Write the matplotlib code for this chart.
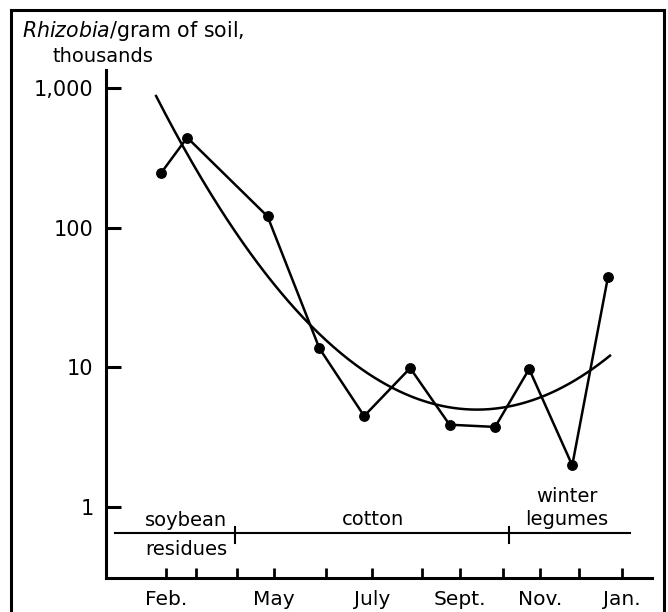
import numpy as np
import matplotlib
matplotlib.use("Agg")
import matplotlib.pyplot as plt
from matplotlib.lines import Line2D
import matplotlib.transforms as mtransforms

plt.rcParams['font.family'] = ['DejaVu Sans']

# months counted from Feb. (0) to Jan. (11), positions
month_ticks = [0, 0.72, 1.71, 2.61, 3.86, 4.97, 6.18, 7.09, 8.13, 9.02, 9.96, 11.0]
month_labels = ['Feb.', '', '', 'May', '', 'July', '', 'Sept.', '', 'Nov.', '', 'Jan.']

# sampling dates (months) and rhizobia counts (thousands per gram of soil)
sample_month = [-0.12, 0.51, 2.45, 3.70, 4.78, 5.89, 6.84, 7.94, 8.76, 9.80, 10.66]
rhizobia = [245, 439, 120, 13.7, 4.5, 9.9, 3.9, 3.76, 9.75, 2.0, 44]

# fitted trend (parabola in log10)
trend_start, trend_end = -0.24, 10.71
trend_min_month = 7.5
trend_min_value = 5.0
trend_curv = 0.0374   # log10 units per month^2

# crop periods along the bottom
crop_edges = [-1.23, 1.665, 8.275, 11.19]


def main():
    fig = plt.figure(figsize=(6.68, 6.12), dpi=100)
    ax = fig.add_axes([0.1587, 0.0556, 0.8174, 0.830])

    # observed counts
    ax.plot(sample_month, rhizobia, color='black', lw=1.8,
            marker='o', ms=6.8, solid_joinstyle='miter')

    # trend curve
    xs = np.linspace(trend_start, trend_end, 300)
    ys = 10 ** (np.log10(trend_min_value) + trend_curv * (xs - trend_min_month) ** 2)
    ax.plot(xs, ys, color='black', lw=1.8)

    ax.set_yscale('log')
    ax.set_ylim(0.3134, 1334)
    ax.set_xlim(-1.448, 11.725)
    ax.set_yticks([1, 10, 100, 1000])
    ax.set_yticklabels(['1', '10', '100', '1,000'])
    ax.yaxis.set_minor_locator(matplotlib.ticker.NullLocator())
    ax.set_xticks(month_ticks)
    ax.set_xticklabels(month_labels)

    for s in ['top', 'right']:
        ax.spines[s].set_visible(False)
    for s in ['left', 'bottom']:
        ax.spines[s].set_linewidth(2.2)
    ax.tick_params(axis='y', direction='in', length=11, width=2.2,
                   pad=9, labelsize=15)
    ax.tick_params(axis='x', direction='in', length=7, width=2.0,
                   pad=9, labelsize=14.5)

    # crop band
    tr = mtransforms.blended_transform_factory(ax.transData, ax.transAxes)
    ax.plot([crop_edges[0], crop_edges[-1]], [0.0886, 0.0886], color='black',
            lw=1.5, transform=tr, clip_on=False)
    for xe in crop_edges[1:-1]:
        ax.plot([xe, xe], [0.069, 0.1004], color='black', lw=1.5,
                transform=tr, clip_on=False)
    ax.text(0.48, 0.103, 'soybean', transform=tr, ha='center', va='baseline',
            fontsize=14)
    ax.text(0.49, 0.046, 'residues', transform=tr, ha='center', va='baseline',
            fontsize=14)
    ax.text(4.99, 0.105, 'cotton', transform=tr, ha='center', va='baseline',
            fontsize=14)
    ax.text(9.67, 0.105, 'legumes', transform=tr, ha='center', va='baseline',
            fontsize=14)
    ax.text(9.67, 0.150, 'winter', transform=tr, ha='center', va='baseline',
            fontsize=14)

    # title at top left
    fig.text(0.033, 0.9395, r'$\mathit{Rhizobia}$/gram of soil,', fontsize=14.8,
             ha='left', va='baseline')
    fig.text(0.078, 0.8987, 'thousands', fontsize=14, ha='left',
             va='baseline')

    # frame around the figure
    for xs_, ys_ in [([0.0165, 0.0165], [0.0, 0.9837]),
                     ([0.0165, 0.994], [0.9837, 0.9837]),
                     ([0.994, 0.994], [0.0, 0.9837])]:
        fig.add_artist(Line2D(xs_, ys_, color='black', lw=2.2,
                              transform=fig.transFigure))

    fig.savefig('out.png', dpi=100)


main()
